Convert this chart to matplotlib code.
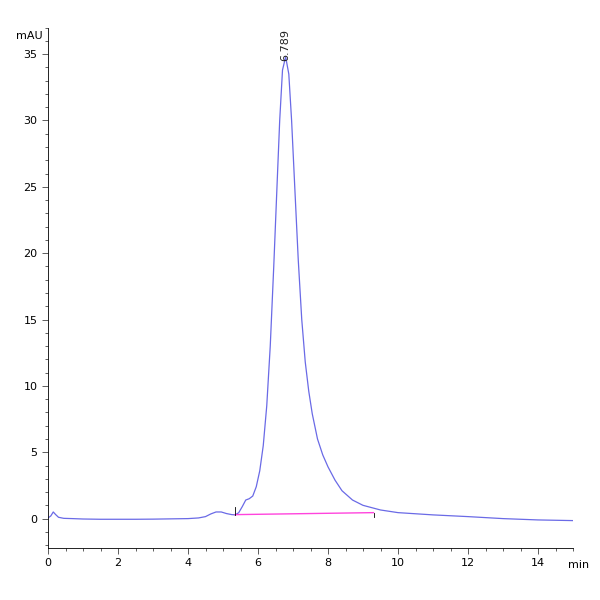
import matplotlib.pyplot as plt
from matplotlib.ticker import MultipleLocator

# chromatogram trace
times = [0.0, 0.08, 0.15, 0.22, 0.3, 0.45, 0.7, 1.0, 1.5, 2.0, 2.5, 3.0, 3.5, 4.0, 4.3,
         4.5, 4.65, 4.8, 4.95, 5.1, 5.25, 5.35, 5.45, 5.55, 5.65, 5.75, 5.85, 5.95, 6.05,
         6.15, 6.25, 6.35, 6.45, 6.55, 6.62, 6.7, 6.79, 6.88, 6.96, 7.05, 7.15, 7.25, 7.35,
         7.45, 7.55, 7.7, 7.85, 8.0, 8.2, 8.4, 8.7, 9.0, 9.5, 10.0, 11.0, 12.0, 13.0,
         14.0, 15.0]
signal = [0.05, 0.2, 0.5, 0.3, 0.1, 0.02, 0.0, -0.03, -0.05, -0.05, -0.05, -0.04, -0.02, 0.0, 0.05,
          0.15, 0.35, 0.5, 0.5, 0.38, 0.3, 0.28, 0.45, 0.9, 1.4, 1.5, 1.7, 2.4, 3.6,
          5.5, 8.5, 13.0, 19.0, 25.5, 30.0, 33.8, 34.8, 33.5, 30.0, 25.0, 19.5, 15.0, 11.8,
          9.6, 7.9, 6.0, 4.8, 3.9, 2.9, 2.1, 1.4, 1.0, 0.65, 0.45, 0.28, 0.15, 0.0,
          -0.1, -0.15]
base_t = [5.35, 9.3]
base_y = [0.3, 0.45]
peak_t = 6.789
peak_y = 34.5

fig = plt.figure(figsize=(6, 6), dpi=100)
ax = fig.add_axes([0.08, 0.087, 0.875, 0.867])
ax.plot(times, signal, color='#6a6ae6', lw=0.9)
ax.plot(base_t, base_y, color='#ff44dd', lw=1.0)
ax.plot([base_t[0]] * 2, [base_y[0], base_y[0] + 0.6], color='k', lw=0.6)
ax.plot([base_t[1]] * 2, [base_y[1] - 0.3, base_y[1]], color='k', lw=0.6)
ax.text(peak_t, peak_y, "6.789", rotation=90, ha='center', va='bottom',
        fontsize=8, color='#222222')

ax.set_xlim(0, 15)
ax.set_ylim(-2.2, 37)
ax.xaxis.set_major_locator(MultipleLocator(2))
ax.xaxis.set_minor_locator(MultipleLocator(0.5))
ax.yaxis.set_major_locator(MultipleLocator(5))
ax.yaxis.set_minor_locator(MultipleLocator(1))
for s in ['top', 'right']:
    ax.spines[s].set_visible(False)
ax.tick_params(labelsize=8, length=4, width=0.6, color='#444444')
ax.tick_params(which='minor', length=2.5, width=0.6, color='#444444')
for s in ['left', 'bottom']:
    ax.spines[s].set_linewidth(0.6)
ax.text(-0.15, 36.4, "mAU", ha='right', va='center', fontsize=8)
ax.text(14.85, -3.5, "min", ha='left', va='center', fontsize=8)
fig.savefig("out.png", dpi=100)
